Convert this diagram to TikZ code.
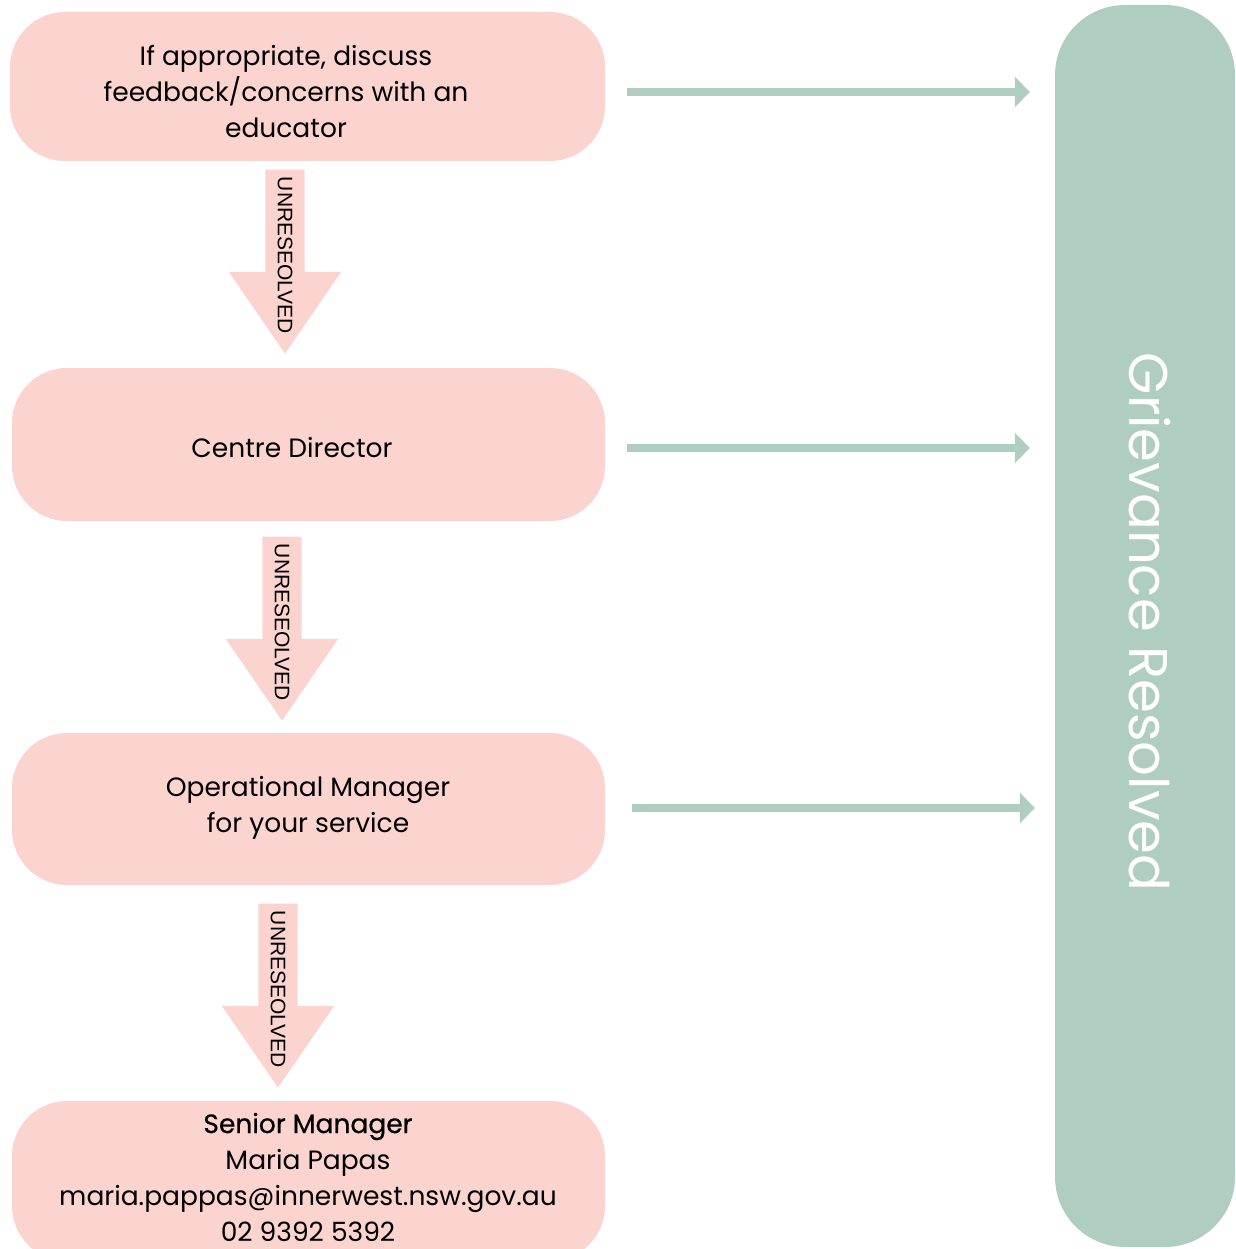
\documentclass[tikz,border=0pt]{standalone}
\usepackage{fontspec}
\setmainfont{Poppins}
\newfontfamily\arrowfont{Liberation Sans}
\newfontfamily\semifont[FakeBold=0.6]{Poppins}
\usetikzlibrary{shapes.arrows,arrows.meta}
\definecolor{stepPink}{HTML}{FBD3CF}
\definecolor{resGreen}{HTML}{B0CDC2}

\begin{document}
\begin{tikzpicture}[x=1pt, y=-1pt,
  stepbox/.style={fill=stepPink, rounded corners=55pt, inner sep=0pt},
  steptext/.style={align=center, font=\fontsize{26.5}{36}\selectfont, text=black},
  unres/.style={single arrow, fill=stepPink, rotate=-90, anchor=tip, minimum height=184pt,
    inner ysep=19.5pt, inner xsep=0pt, single arrow head extend=36.5pt, single arrow tip angle=69},
  unreslabel/.style={rotate=-90, inner sep=0pt, font=\fontsize{21}{21}\arrowfont},
  resarr/.style={resGreen, line width=8pt, -{Triangle[length=15pt,width=30pt]}},
]
\clip (0,0) rectangle (1235,1249);
% steps
\node[stepbox, minimum width=595pt, minimum height=149pt] (b1) at (307.5,86.5) {};
\node[stepbox, minimum width=593pt, minimum height=153pt] (b2) at (308.5,444.5) {};
\node[stepbox, minimum width=593pt, minimum height=152pt] (b3) at (308.5,809) {};
\node[stepbox, minimum width=593pt, minimum height=160pt] (b4) at (308.5,1181) {};
\node[steptext] (t1) at (286,91) {If appropriate, discuss\\feedback/concerns with an\\educator};
\node[steptext] (t2) at (292,448) {Centre Director};
\node[steptext] (t3) at (308,808) {Operational Manager\\for your service};
\node[steptext] (t4) at (308,1177) {{\semifont Senior Manager}\\Maria Papas\\maria.pappas@innerwest.nsw.gov.au\\02 9392 5392};
% escalation
\node[unres] (u1) at (285,354) {};
\node[unres] (u2) at (282,721) {};
\node[unres] (u3) at (278,1088) {};
\node[unreslabel] (l1) at ([yshift=98.5pt]u1.tip) {UNRESEOLVED};
\node[unreslabel] (l2) at ([yshift=98.5pt]u2.tip) {UNRESEOLVED};
\node[unreslabel] (l3) at ([yshift=98.5pt]u3.tip) {UNRESEOLVED};
% resolved
\node[fill=resGreen, rounded corners=70pt, minimum width=180pt, minimum height=1242pt, inner sep=0pt] (gr) at (1145,626) {};
\node[rotate=-90, text=white, font=\fontsize{54.5}{54.5}\selectfont] (grt) at (1150,622) {Grievance Resolved};
\draw[resarr] ([shift={(22pt,-5.5pt)}]b1.east) -- ([shift={(-25pt,-5.5pt)}]b1.east -| gr.west);
\draw[resarr] ([shift={(22pt,-3.5pt)}]b2.east) -- ([shift={(-25pt,-3.5pt)}]b2.east -| gr.west);
\draw[resarr] ([shift={(27pt,1pt)}]b3.east) -- ([shift={(-20pt,1pt)}]b3.east -| gr.west);
\end{tikzpicture}
\end{document}
